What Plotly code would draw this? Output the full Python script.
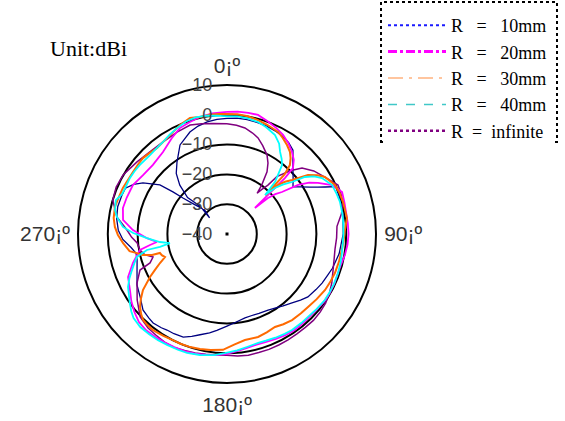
import plotly.graph_objects as go

# Measured radiation patterns (dBi) for different ground radii R
t10 = [0, 5, 10, 15, 20, 25, 30, 34, 38.2, 43.7, 49.7, 54.5, 57.2, 60.5, 62.7, 64.4, 66.5, 72, 80, 90,
       100, 108, 113, 117.3, 122, 127.9, 132, 136.7, 142, 146, 151.6, 158, 163, 167.9, 174, 180, 186, 190,
       195, 199, 203, 208, 212, 215, 219.7, 223, 227.9, 234, 240.5, 247, 253.9, 258, 262, 267, 272, 278,
       284, 290, 294.3, 298, 301.3, 306.2, 307.9, 309.3, 312, 317, 313, 316, 312.7, 316, 320, 325.2,
       332.2, 340, 345, 350, 355, 360]
r10 = [-1.2, -1.0, -1.0, -1.2, -1.4, -1.8, -2.3, -3.0, -4.2, -8.0, -10.9, -12.8, -10.8, -8.0, -5.7, -3.5,
       -0.2, -0.3, -0.5, -1.0, -1.8, -2.8, -3.6, -4.1, -4.8, -5.6, -6.8, -8.2, -9.4, -10.2, -11.0, -11.3,
       -11.4, -11.2, -10.3, -9.1, -7.5, -6.3, -5.0, -3.7, -2.4, -2.1, -2.0, -1.6, -1.2, -1.5, -2.0, -4.0,
       -5.3, -7.2, -8.6, -8.8, -7.5, -5.0, -3.5, -2.6, -2.2, -2.4, -2.6, -4.5, -7.0, -12.1, -17.0, -20.9,
       -25.0, -29.0, -32.0, -27.0, -22.0, -17.2, -13.5, -10.6, -6.2, -3.6, -2.5, -1.8, -1.4, -1.2]

t20 = [0, 5, 10, 14.6, 20, 25, 29.5, 34, 38.4, 42, 45, 46, 46.3, 47, 48.7, 50.5, 52.6, 55.4, 58, 60.7,
       65, 70, 75, 80, 85, 90, 95, 100, 105, 110, 115, 120, 125, 130, 135, 140, 145, 150, 155, 160, 165,
       170, 175, 180, 185, 190, 195, 200, 205, 210, 215, 220, 225, 230, 235, 240, 246.5, 253, 259.6,
       261.9, 263.5, 267, 272.4, 277.7, 284, 290, 297.5, 305, 313, 322, 330, 336, 341.7, 347, 353, 360]
r20 = [1.0, 1.2, 1.3, 1.3, 0.2, -0.8, -1.8, -3.2, -4.9, -6.5, -8.7, -13.0, -21.2, -27.2, -21.7, -19.0,
       -16.8, -11.0, -7.5, -5.0, -1.1, 1.1, 0.8, 0.6, 0.7, 0.8, 0.6, 0.2, -0.4, -0.5, -0.3, -0.2, -0.3,
       -0.6, -0.8, -0.7, -0.6, -0.8, -1.2, -1.5, -1.6, -1.2, -0.5, 0.2, 0.8, 1.2, 1.6, 1.8, 1.9, 2.0, 2.1,
       2.2, 1.8, 0.6, -0.8, -2.4, -3.8, -7.0, -10.3, -13.9, -16.3, -13.1, -8.4, -4.8, -4.0, -4.2, -4.4,
       -5.6, -6.0, -5.1, -2.9, -1.1, -0.4, 0.3, 0.8, 1.0]

t30 = [0, 5, 10, 15.2, 20, 26.6, 30, 34, 37.5, 40, 42.4, 44.0, 44.4, 44.8, 46.1, 48, 50.3, 53.9, 57,
       59.8, 65.6, 70, 74.6, 82.4, 88, 93, 97.9, 104, 109.9, 115, 119.7, 126, 132, 137, 142.9, 148, 152.7,
       158, 163.2, 170.4, 176, 182, 188, 193.2, 198, 203, 207, 212, 217.6, 221, 224.3, 227, 230, 233,
       236.3, 240.8, 243.5, 246.6, 249.6, 252, 254.2, 254.4, 256, 258, 260, 265, 269.5, 273.6, 278,
       283.6, 288, 293.9, 298, 303.4, 308, 312.1, 316, 320.9, 325, 330, 336.7, 342.3, 347, 352, 356, 360]
r30 = [0.3, 0.3, 0.1, -0.4, -0.9, -1.7, -2.7, -4.0, -5.3, -6.8, -8.7, -12.2, -18.4, -21.7, -16.3, -13.8,
       -11.6, -6.4, -3.8, -2.0, -0.2, 0.2, 0.4, 0.6, -0.4, -0.8, -1.1, -1.3, -1.5, -1.8, -2.1, -2.8, -3.4,
       -3.6, -3.8, -4.3, -4.9, -4.4, -3.9, -3.9, -2.9, -1.1, -0.7, -0.4, -0.1, 0.0, 0.0, 0.3, 0.7, 0.6,
       0.3, -0.6, -1.9, -3.8, -6.1, -10.4, -13.0, -15.5, -17.8, -17.0, -16.6, -13.9, -10.9, -9.1, -6.8,
       -5.0, -3.4, -2.3, -1.6, -1.3, -1.6, -1.8, -2.1, -2.2, -2.1, -2.0, -2.4, -2.8, -2.4, -1.7, -0.2,
       0.9, 0.3, 0.4, 0.4, 0.3]

t40 = [0, 5, 10, 15.5, 20, 25.9, 30, 32.9, 36, 38.6, 42.7, 44.3, 46.2, 48.5, 51.3, 53.8, 56.5, 59.5,
       65, 70, 74.2, 80, 85, 90, 94.4, 100, 104, 109.4, 115, 120, 124, 130, 135.7, 140, 145.9, 150, 155,
       160, 164, 170, 175, 181, 186, 192.6, 198.6, 203, 208.4, 213, 217.8, 223, 228, 231, 234.6, 238,
       241.8, 245.5, 249.2, 252.5, 255.7, 258.7, 259.2, 261, 263.2, 267, 270.6, 273.9, 278.8, 282, 286.9,
       290.6, 295, 300, 304, 308.4, 312, 315.7, 320, 325.2, 330, 334.7, 340, 345, 350, 355, 360]
r40 = [-0.5, -0.4, -0.6, -1.0, -1.8, -3.1, -5.0, -7.2, -8.8, -10.4, -16.2, -21.7, -17.7, -15.0, -12.1,
       -7.6, -5.0, -3.0, -1.1, -0.8, -0.6, -0.7, -0.8, -0.9, -1.0, -0.9, -0.7, -0.5, -0.4, -0.4, -0.4,
       -0.8, -1.1, -1.1, -1.1, -1.3, -1.6, -1.9, -2.0, -1.5, -0.8, 0.0, 0.9, 1.6, 2.1, 2.2, 2.3, 2.5, 2.6,
       2.7, 2.2, 1.3, 0.0, -1.2, -2.3, -4.0, -5.9, -7.4, -8.8, -12.6, -17.1, -20.6, -17.3, -13.1, -8.5,
       -5.0, -2.6, -1.6, -1.0, -2.3, -2.5, -2.4, -2.5, -2.7, -2.9, -3.0, -2.8, -2.4, -1.5, -0.7, 0.2, 0.5,
       0.3, -0.1, -0.5]

tinf = [0, 5, 9.6, 14, 17.9, 22, 26.9, 30, 32.8, 35.3, 36.5, 38, 39.9, 41, 45, 48.7, 54, 59.8, 66.2, 70,
        74.6, 80, 86, 92, 98, 104, 108.8, 115, 120, 125, 130, 135, 140, 145, 150, 155, 160, 165, 170, 175,
        180, 185, 190, 195, 200, 205, 210, 215, 220, 226.3, 233.7, 241.4, 247.5, 249.4, 252.7, 256,
        259.6, 264.3, 268, 272.3, 278.8, 286.6, 293, 299.6, 308.7, 316.8, 325, 333.9, 341.3, 347, 353, 360]
rinf = [-3.0, -3.4, -3.9, -5.0, -6.1, -8.0, -10.3, -12.5, -15.2, -19.8, -23.0, -21.0, -18.6, -14.5, -10.0,
        -6.5, -4.0, -2.0, 0.7, 0.6, 0.3, -1.0, -3.0, -3.2, -3.4, -3.0, -2.4, -1.2, -0.3, 0.4, 0.8, 1.0,
        0.9, 0.9, 1.0, 1.1, 1.2, 1.2, 1.3, 1.1, 0.7, 0.8, 1.0, 1.3, 1.6, 2.0, 1.9, 1.5, 1.2, 0.3, -2.6,
        -5.6, -8.4, -12.4, -14.0, -11.5, -10.3, -9.7, -8.0, -6.4, -2.6, 0.0, 0.4, 0.1, -1.3, -2.2, -2.4,
        -1.9, -1.4, -2.0, -2.6, -3.0]

names = ["R   =   10mm", "R   =   20mm", "R   =   30mm", "R   =   40mm", "R  =  infinite"]
radial_ticks = [-40, -30, -20, -10, 0, 10]
angle_ticks = [0, 90, 180, 270]
angle_labels = ["0¡º", "90¡º", "180¡º", "270¡º"]

# curve styles in the plot area
plot_styles = {
    "10": dict(color="#000080", width=1.3),
    "20": dict(color="#ff00ff", width=1.8),
    "30": dict(color="#ff6a00", width=2.0),
    "40": dict(color="#00ffff", width=1.8),
    "inf": dict(color="#800080", width=1.5),
}
# legend sample styles
legend_styles = [
    dict(color="#1a1aff", width=2, dash="dot"),
    dict(color="#ff00ff", width=3, dash="dashdot"),
    dict(color="#ffb27f", width=1.5, dash="longdashdot"),
    dict(color="#40c8c8", width=1.5, dash="dash"),
    dict(color="#800080", width=2.5, dash="dot"),
]

series = [
    ("10", t10, r10),
    ("inf", tinf, rinf),
    ("20", t20, r20),
    ("30", t30, r30),
    ("40", t40, r40),
]

fig = go.Figure()
for key, th, rr in series:
    fig.add_trace(go.Scatterpolar(
        r=rr, theta=th, mode="lines", line=plot_styles[key],
        showlegend=False, hoverinfo="skip"))

for name, st in zip(names, legend_styles):
    fig.add_trace(go.Scatterpolar(
        r=[None], theta=[None], mode="lines", line=st, name=name, showlegend=True))

# small marker at the pole
fig.add_trace(go.Scatterpolar(
    r=[radial_ticks[0]], theta=[0], mode="markers",
    marker=dict(symbol="square", size=3, color="black"), showlegend=False, hoverinfo="skip"))

W, H = 565, 421
fig.update_layout(
    width=W, height=H,
    margin=dict(l=0, r=0, t=0, b=0),
    paper_bgcolor="white",
    showlegend=True,
    polar=dict(
        domain=dict(x=[78 / W, 376 / W], y=[1 - 383 / H, 1 - 85 / H]),
        bgcolor="white",
        angularaxis=dict(
            direction="clockwise", rotation=90,
            tickmode="array", tickvals=angle_ticks, ticktext=angle_labels,
            showgrid=False, showline=True, linecolor="black", linewidth=2,
            ticks="outside", ticklen=3, tickcolor="rgba(0,0,0,0)",
            tickfont=dict(family="Liberation Sans", size=21, color="#333333"),
        ),
        radialaxis=dict(
            range=[-40, 10], tickmode="array", tickvals=radial_ticks,
            angle=90, side="counterclockwise", tickangle=90,
            showline=False, showgrid=True, gridcolor="black", gridwidth=2,
            ticks="outside", ticklen=8, tickcolor="rgba(0,0,0,0)",
            tickfont=dict(family="Liberation Sans", size=18, color="#444444"),
        ),
    ),
    legend=dict(
        x=383 / W, y=1 - 7 / H, xanchor="left", yanchor="top",
        bgcolor="white", borderwidth=0, itemwidth=58,
        font=dict(family="Liberation Serif", size=18, color="black"),
        tracegroupgap=0,
    ),
    shapes=[dict(type="rect", xref="paper", yref="paper",
                 x0=381 / W, x1=557 / W, y0=1 - 142 / H, y1=1 - 2 / H,
                 line=dict(color="black", width=2, dash="dot"))],
    annotations=[dict(text="Unit:dBi", x=88 / W, y=1 - 49 / H, xref="paper", yref="paper",
                      xanchor="center", yanchor="middle", showarrow=False,
                      font=dict(family="Liberation Serif", size=22, color="black"))],
)

fig.write_html("out.html")
